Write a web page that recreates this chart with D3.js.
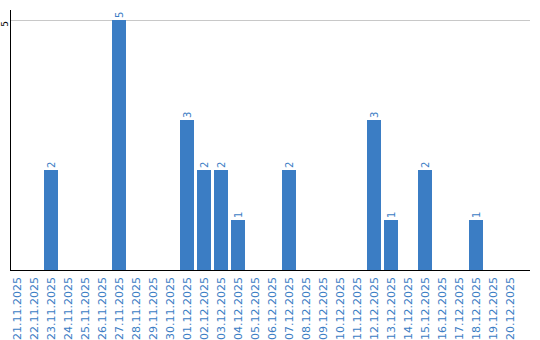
<!DOCTYPE html>
<html>
<head>
<meta charset="utf-8">
<script src="https://cdn.jsdelivr.net/npm/d3@7"></script>
<style>
body { margin: 0; background: #fff; }
text { font-family: "DejaVu Sans", Verdana, sans-serif; }
</style>
</head>
<body>
<script>
// day labels along the bottom
var days = ["21.11.2025", "22.11.2025", "23.11.2025", "24.11.2025", "25.11.2025",
    "26.11.2025", "27.11.2025", "28.11.2025", "29.11.2025", "30.11.2025",
    "01.12.2025", "02.12.2025", "03.12.2025", "04.12.2025", "05.12.2025",
    "06.12.2025", "07.12.2025", "08.12.2025", "09.12.2025", "10.12.2025",
    "11.12.2025", "12.12.2025", "13.12.2025", "14.12.2025", "15.12.2025",
    "16.12.2025", "17.12.2025", "18.12.2025", "19.12.2025", "20.12.2025"];

// counts per day
var counts = [0, 0, 2, 0, 0, 0, 5, 0, 0, 0,
    3, 2, 2, 1, 0, 0, 2, 0, 0, 0,
    0, 3, 1, 0, 2, 0, 0, 1, 0, 0];

var yTicks = [5];

window.onload = function(){
    var w = 540, h = 340;
    var left = 10, top = 20, base = 270;
    var blue = "#3b7dc4";

    var svg = d3.select("body").append("svg")
        .attr("width", w)
        .attr("height", h);

    var x = d3.scaleBand()
        .domain(days)
        .range([left, left + days.length * 17]);

    var y = d3.scaleLinear()
        .domain([0, 5])
        .range([base, top]);

    var barW = x.bandwidth() - 3;

    // grid line
    svg.selectAll(".grid")
        .data(yTicks)
        .enter().append("line")
        .attr("x1", left).attr("x2", 530)
        .attr("y1", function(d){ return y(d) + 0.5; })
        .attr("y2", function(d){ return y(d) + 0.5; })
        .style("stroke", "#c8c8c8");

    var data = days.map(function(d, i){ return {day: d, v: counts[i]}; })
        .filter(function(d){ return d.v > 0; });

    svg.selectAll(".bar")
        .data(data)
        .enter().append("rect")
        .attr("x", function(d){ return x(d.day); })
        .attr("y", function(d){ return y(d.v); })
        .attr("width", barW)
        .attr("height", function(d){ return base - y(d.v); })
        .style("fill", blue);

    // value labels, rotated
    svg.selectAll(".val")
        .data(data)
        .enter().append("text")
        .attr("transform", function(d){
            return "translate(" + (x(d.day) + barW / 2) + "," + (y(d.v) - 2) + ") rotate(-90)";
        })
        .attr("dy", "0.35em")
        .style("font-size", "10px")
        .style("fill", blue)
        .text(function(d){ return d.v; });

    // axes lines
    svg.append("line")
        .attr("x1", left + 0.5).attr("x2", left + 0.5)
        .attr("y1", 10).attr("y2", base)
        .style("stroke", "#000");
    svg.append("line")
        .attr("x1", left).attr("x2", 530)
        .attr("y1", base + 0.5).attr("y2", base + 0.5)
        .style("stroke", "#000");

    // y tick labels
    svg.selectAll(".ytick")
        .data(yTicks)
        .enter().append("text")
        .attr("transform", function(d){
            return "translate(5," + (y(d) + 1) + ") rotate(-90)";
        })
        .attr("text-anchor", "end")
        .attr("dy", "0.35em")
        .style("font-size", "9px")
        .style("fill", "#000")
        .text(function(d){ return d; });

    // day labels
    svg.selectAll(".xtick")
        .data(days)
        .enter().append("text")
        .attr("transform", function(d){
            return "translate(" + (x(d) + barW / 2) + "," + (base + 7) + ") rotate(-90)";
        })
        .attr("text-anchor", "end")
        .attr("dy", "0.35em")
        .style("font-size", "11px")
        .style("fill", blue)
        .text(function(d){ return d; });
};
</script>
</body>
</html>
